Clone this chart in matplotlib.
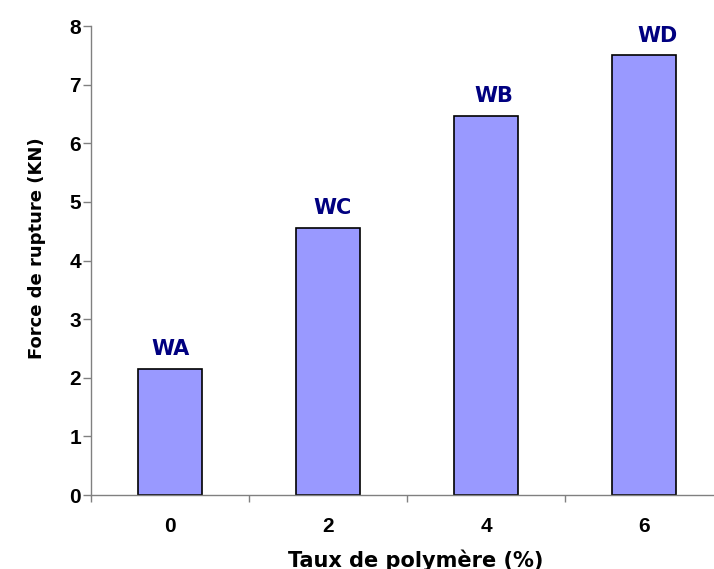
import matplotlib
matplotlib.use("Agg")
import matplotlib.pyplot as plt
from matplotlib.ticker import FixedLocator, NullFormatter

# Breaking force for each polymer content
categories = ["0", "2", "4", "6"]
forces = [2.15, 4.56, 6.47, 7.5]
labels = ["WA", "WC", "WB", "WD"]
label_shift_pt = [0, 3, 6, 9.5]
y_ticks = [0, 1, 2, 3, 4, 5, 6, 7, 8]

plt.rcParams["font.family"] = ["Liberation Sans", "DejaVu Sans"]

fig = plt.figure(figsize=(7.14, 5.69), dpi=100)
ax = fig.add_axes([0.1275, 0.130, 0.885, 0.824])

x = list(range(len(categories)))
ax.bar(x, forces, width=0.41, color="#9999FF", edgecolor="black", linewidth=1.2)

for xi, v, lab, dx in zip(x, forces, labels, label_shift_pt):
    ax.annotate(lab, (xi, v), xytext=(dx, 10), textcoords="offset points",
                ha="center", va="baseline", color="#000080",
                fontsize=15, fontweight="bold", family="DejaVu Sans")

ax.set_xlim(-0.5, len(categories) - 0.5)
ax.set_ylim(0, 8)
ax.set_yticks(y_ticks)
ax.set_yticklabels([str(t) for t in y_ticks])

# Category labels centred on bars, tick marks at category boundaries
ax.xaxis.set_major_locator(FixedLocator([i - 0.5 for i in range(len(categories) + 1)]))
ax.xaxis.set_major_formatter(NullFormatter())
ax.xaxis.set_minor_locator(FixedLocator(x))
ax.set_xticklabels(categories, minor=True)
ax.tick_params(axis="x", which="minor", length=0, pad=15.5)
ax.tick_params(axis="x", which="major", length=5, width=1, color="#808080", direction="out")
ax.tick_params(axis="y", length=5.8, width=1, color="#808080", direction="out", pad=1.5)

for lab in ax.get_xticklabels(minor=True) + ax.get_yticklabels():
    lab.set_fontweight("bold")
    lab.set_fontsize(15)

for side in ("top", "right"):
    ax.spines[side].set_visible(False)
for side in ("left", "bottom"):
    ax.spines[side].set_color("#808080")
    ax.spines[side].set_linewidth(1.0)

ax.set_ylabel("Force de rupture (KN)", fontsize=13, fontweight="bold", family="DejaVu Sans")
ax.yaxis.label.set_va("center")
ax.yaxis.set_label_coords(-0.0854, 0.527)

ax.set_xlabel("Taux de polymère (%)", fontsize=15, fontweight="bold", family="DejaVu Sans")
ax.xaxis.label.set_va("top")
ax.xaxis.set_label_coords(0.514, -0.116)

fig.savefig("out.png", dpi=100)
